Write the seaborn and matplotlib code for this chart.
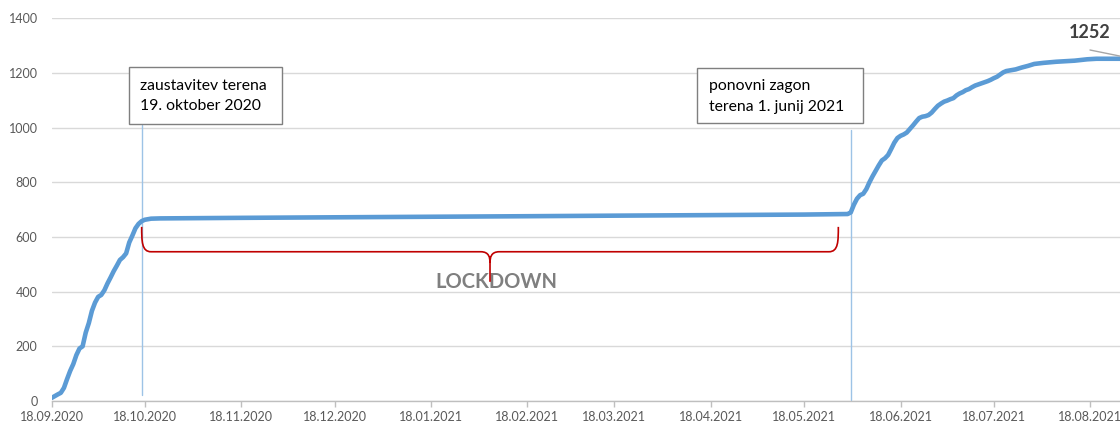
import numpy as np
import pandas as pd
import matplotlib
matplotlib.use("Agg")
import matplotlib.pyplot as plt
import matplotlib.dates as mdates
from matplotlib.path import Path
from matplotlib.patches import PathPatch, Rectangle
import seaborn as sns

# ---------------- data ----------------
dates = [
    "2020-09-18", "2020-09-20", "2020-09-21", "2020-09-22", "2020-09-23", "2020-09-24",
    "2020-09-25", "2020-09-26", "2020-09-27", "2020-09-28", "2020-09-29", "2020-09-30",
    "2020-10-01", "2020-10-02", "2020-10-03", "2020-10-04", "2020-10-05", "2020-10-06",
    "2020-10-07", "2020-10-08", "2020-10-09", "2020-10-10", "2020-10-11", "2020-10-12",
    "2020-10-13", "2020-10-14", "2020-10-15", "2020-10-16", "2020-10-17", "2020-10-18",
    "2020-10-20", "2020-10-23", "2020-11-18", "2020-12-18", "2021-01-18", "2021-02-18",
    "2021-03-18", "2021-04-18", "2021-05-18", "2021-06-01", "2021-06-02", "2021-06-03",
    "2021-06-04", "2021-06-05", "2021-06-06", "2021-06-07", "2021-06-08", "2021-06-09",
    "2021-06-10", "2021-06-11", "2021-06-12", "2021-06-13", "2021-06-14", "2021-06-15",
    "2021-06-16", "2021-06-17", "2021-06-18", "2021-06-19", "2021-06-20", "2021-06-21",
    "2021-06-22", "2021-06-23", "2021-06-24", "2021-06-25", "2021-06-26", "2021-06-27",
    "2021-06-28", "2021-06-29", "2021-06-30", "2021-07-01", "2021-07-02", "2021-07-03",
    "2021-07-04", "2021-07-05", "2021-07-06", "2021-07-07", "2021-07-08", "2021-07-09",
    "2021-07-10", "2021-07-11", "2021-07-12", "2021-07-13", "2021-07-14", "2021-07-15",
    "2021-07-16", "2021-07-17", "2021-07-18", "2021-07-19", "2021-07-20", "2021-07-21",
    "2021-07-22", "2021-07-23", "2021-07-25", "2021-07-27", "2021-07-29", "2021-07-31",
    "2021-08-03", "2021-08-07", "2021-08-13", "2021-08-17", "2021-08-20", "2021-08-31",
]
values = [
    11, 24, 30, 48, 80, 110,
    135, 168, 192, 200, 250, 285,
    330, 360, 381, 388, 405, 430,
    452, 475, 495, 516, 526, 540,
    580, 605, 632, 648, 658, 663,
    667, 668, 670, 672, 674, 676,
    678, 680, 682, 684, 690, 718,
    740, 753, 758, 775, 800, 822,
    842, 862, 880, 888, 900, 922,
    945, 962, 970, 975, 982, 995,
    1008, 1022, 1035, 1040, 1042, 1046,
    1055, 1068, 1080, 1088, 1095, 1099,
    1104, 1108, 1118, 1125, 1130, 1137,
    1141, 1148, 1154, 1158, 1162, 1166,
    1170, 1175, 1181, 1186, 1194, 1202,
    1207, 1209, 1213, 1220, 1226, 1233,
    1237, 1241, 1245, 1250, 1252, 1252,
]
y_ticks = [0, 200, 400, 600, 800, 1000, 1200, 1400]
stop_date = "2020-10-17"
restart_date = "2021-06-02"
box1_lines = ["zaustavitev terena", "19. oktober 2020"]
box2_lines = ["ponovni zagon", "terena 1. junij 2021"]
lockdown_label = "LOCKDOWN"
final_label = "1252"

df = pd.DataFrame({"datum": pd.to_datetime(dates), "stevilo": values})

# ---------------- style ----------------
sns.set_theme(style="white")
plt.rcParams["font.family"] = ["Lato", "DejaVu Sans"]

W, H = 1120, 425
fig = plt.figure(figsize=(W / 100, H / 100), dpi=100)
x0 = pd.Timestamp("2020-09-18")
x1 = pd.Timestamp("2021-08-31")
ndays = (x1 - x0).days
px_per_day = 3.11
ax = fig.add_axes([51.5 / W, 24 / H, ndays * px_per_day / W, (401 - 18.3) / H])

# grid
for yv in y_ticks:
    ax.axhline(yv, color="#d9d9d9", lw=1.0, zorder=0)

sns.lineplot(data=df, x="datum", y="stevilo", ax=ax, color="#5B9BD5",
             lw=3.3, zorder=3, legend=False)

ax.set_xlim(x0, x1)
ax.set_ylim(0, 1400)
ax.set_yticks(y_ticks)
ax.xaxis.set_major_locator(mdates.MonthLocator(bymonthday=18))
ax.xaxis.set_major_formatter(mdates.DateFormatter("%d.%m.%Y"))
ax.set_xlabel("")
ax.set_ylabel("")
for s in ["left", "right", "top"]:
    ax.spines[s].set_visible(False)
ax.spines["bottom"].set_color("#bfbfbf")
ax.spines["bottom"].set_linewidth(1.0)
ax.tick_params(axis="x", length=4, width=1, color="#bfbfbf", colors="#595959",
               labelsize=9, pad=3, bottom=True)
ax.tick_params(axis="y", length=0, colors="#595959", labelsize=9, pad=10)

# vertical marker lines
sd = pd.Timestamp(stop_date)
rd = pd.Timestamp(restart_date)
ax.plot([sd, sd], [22, 1009], color="#9DC3E6", lw=1.0, zorder=2)
ax.plot([rd, rd], [4, 991], color="#9DC3E6", lw=1.0, zorder=2)

# brace (LOCKDOWN)
xl = mdates.date2num(pd.Timestamp("2020-10-17"))
xr = mdates.date2num(pd.Timestamp("2021-05-29"))
xc = mdates.date2num(pd.Timestamp("2021-02-06"))
ytip, ybar, ybot = 637, 546, 436
d = 3.0
verts = [
    (xl, ytip), (xl, 585), (xl, ybar), (xl + d, ybar),
    (xc - d, ybar),
    (xc - 0.3, ybar), (xc, 525), (xc, 505),
    (xc, ybot),
    (xc, 505), (xc, 525), (xc + 0.3, ybar), (xc + d, ybar),
    (xr - d, ybar),
    (xr, ybar), (xr, 585), (xr, ytip),
]
codes = [Path.MOVETO, Path.CURVE4, Path.CURVE4, Path.CURVE4,
         Path.LINETO,
         Path.CURVE4, Path.CURVE4, Path.CURVE4,
         Path.LINETO,
         Path.MOVETO, Path.CURVE4, Path.CURVE4, Path.CURVE4,
         Path.LINETO,
         Path.CURVE4, Path.CURVE4, Path.CURVE4]
ax.add_patch(PathPatch(Path(verts, codes), fill=False, edgecolor="#C00000",
                       lw=1.2, zorder=4))

def fx(px):
    return px / W

def fy(py):
    return (H - py) / H

ax.text(fx(496), fy(282), lockdown_label, transform=fig.transFigure,
        ha="center", va="center", fontsize=14.5, fontweight="bold",
        color="#7f7f7f", zorder=3)

# annotation boxes
def box(xa, ya, xb, yb, lines, tx):
    fig.add_artist(Rectangle((fx(xa), fy(yb)), fx(xb) - fx(xa), (yb - ya) / H,
                             transform=fig.transFigure, facecolor="white",
                             edgecolor="#7f7f7f", lw=1.0, zorder=5))
    fig.text(fx(tx), fy(86), lines[0], ha="left", va="center", fontsize=11.3,
             color="#000000", zorder=6)
    fig.text(fx(tx), fy(106.5), lines[1], ha="left", va="center", fontsize=11.3,
             color="#000000", zorder=6)

box(129, 67, 282, 124, box1_lines, 140)
box(697, 68, 863, 123, box2_lines, 709)

# final value label with leader line
fig.text(fx(1090), fy(33), final_label, ha="center", va="center",
         fontsize=13, fontweight="bold", color="#404040")
fig.add_artist(plt.Line2D([fx(1090), fx(1122)], [fy(50), fy(56.5)],
                          transform=fig.transFigure, color="#a6a6a6", lw=1.0))

fig.savefig("out.png", dpi=100)
